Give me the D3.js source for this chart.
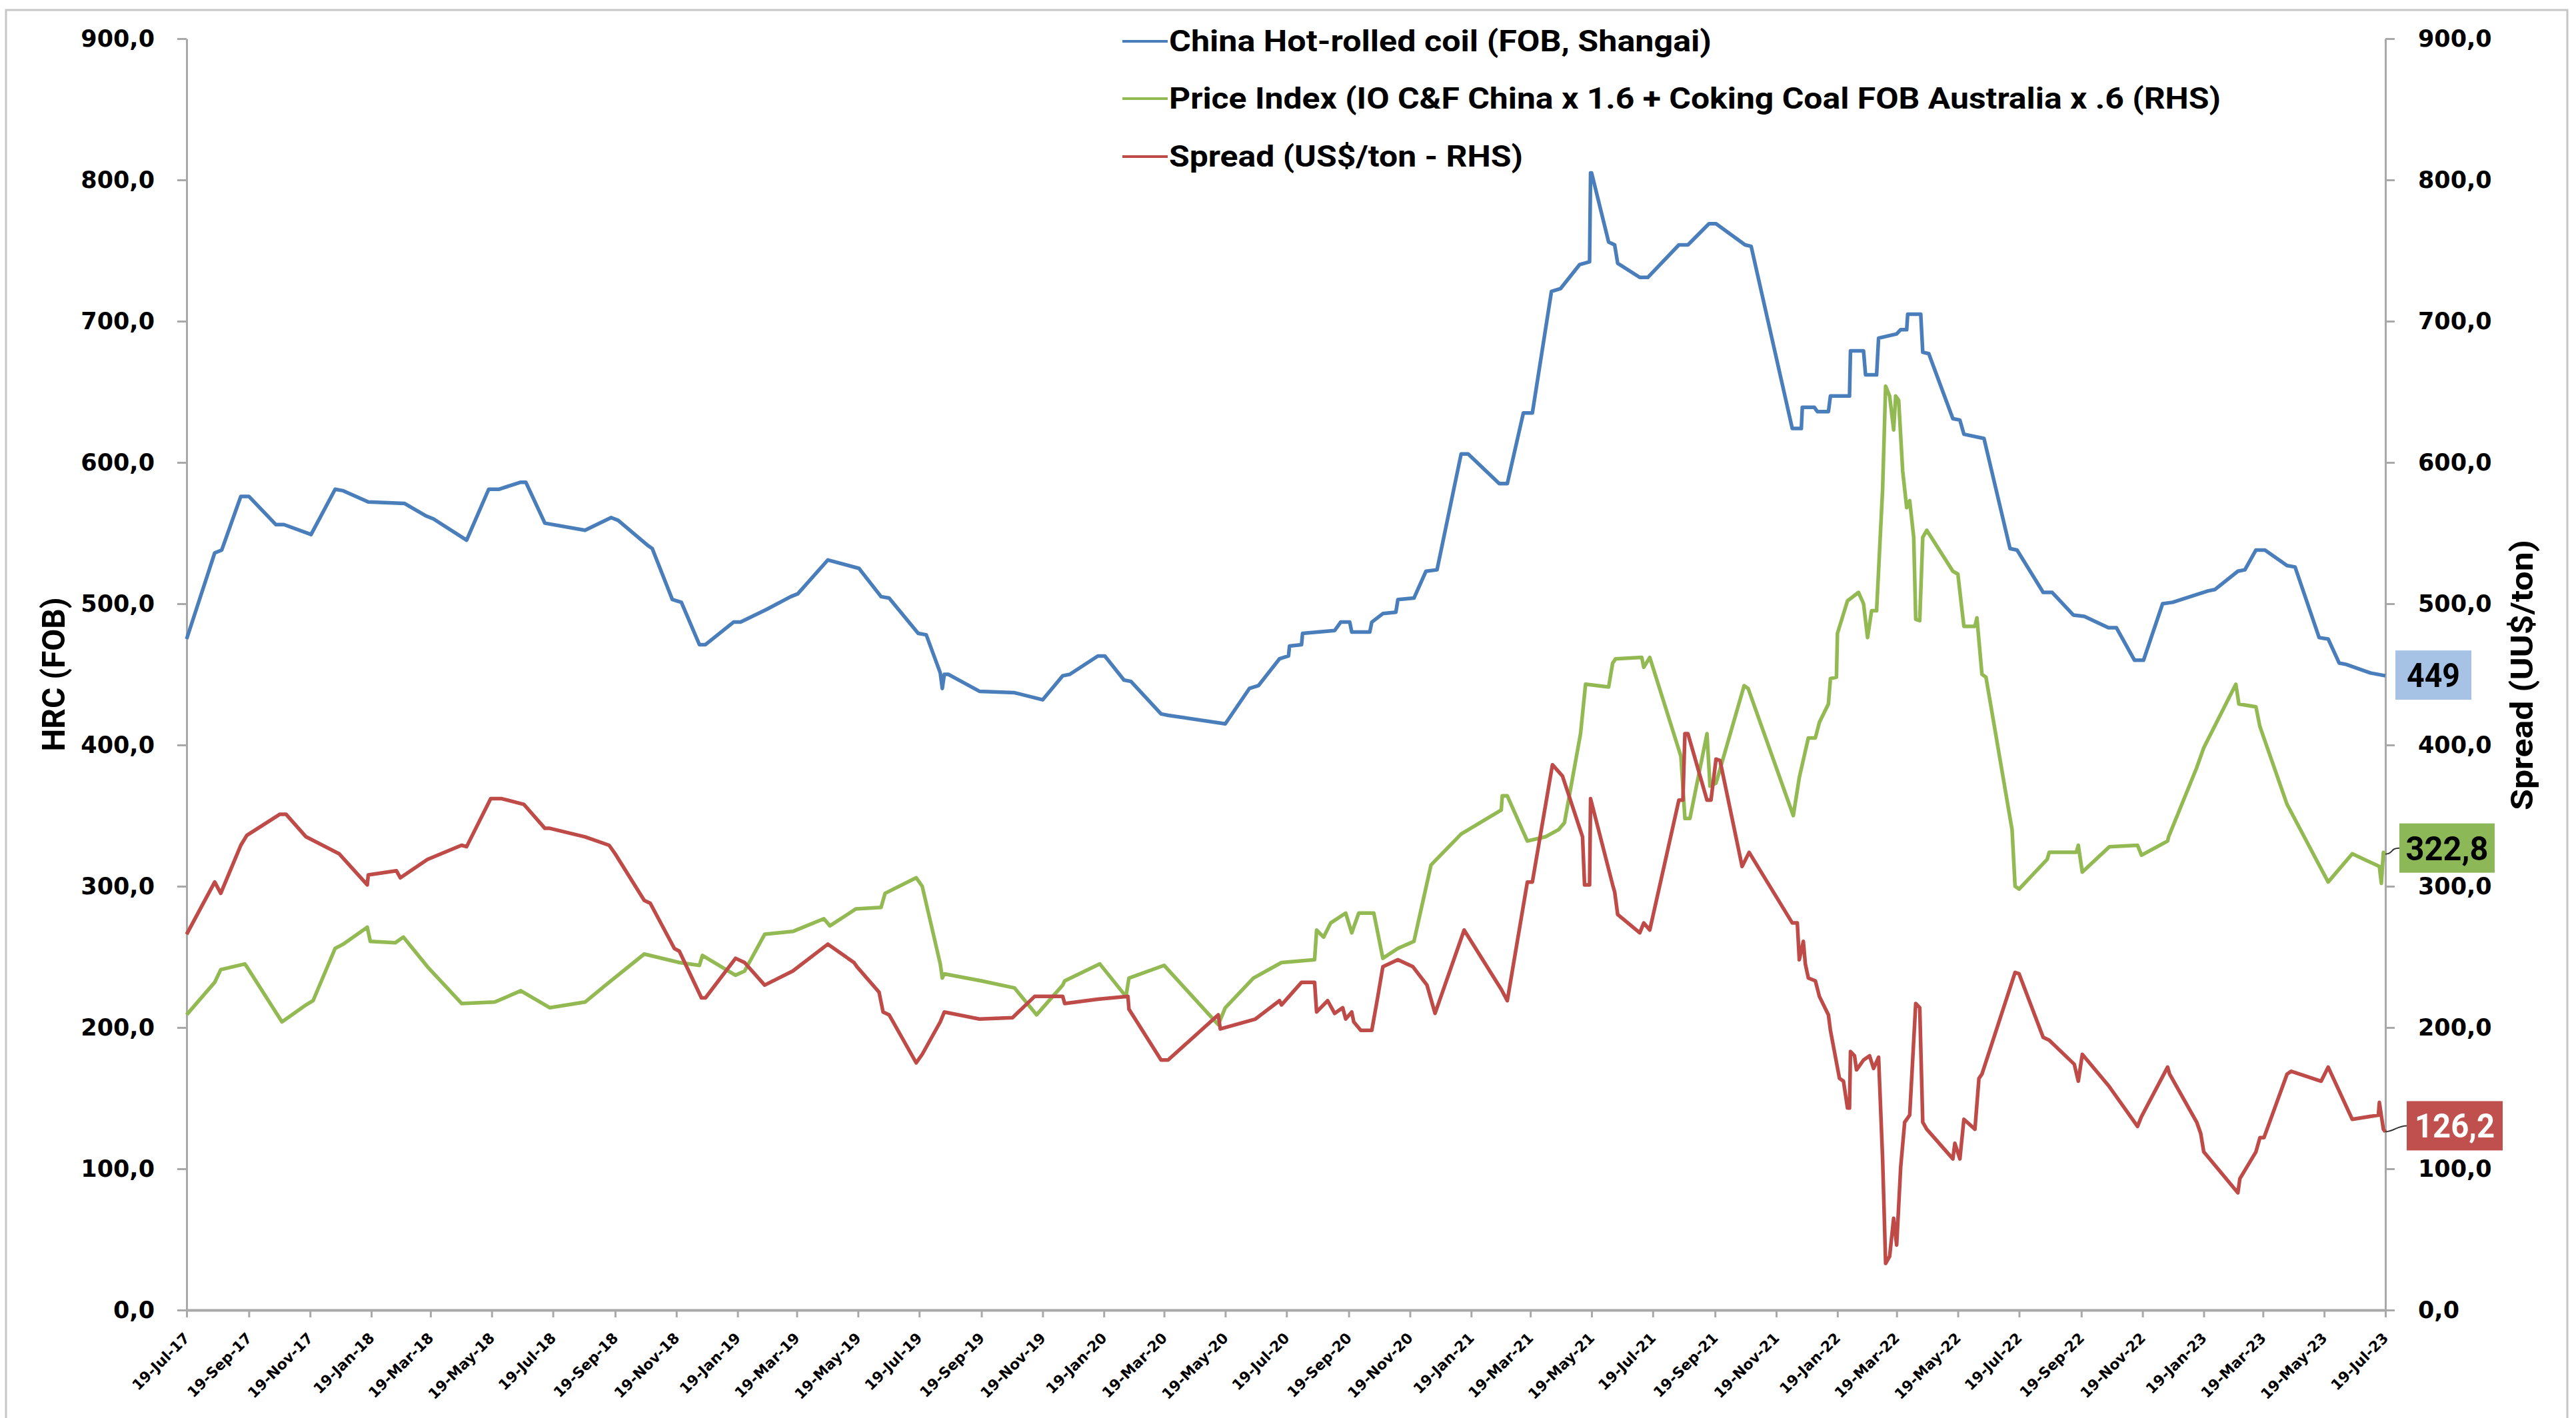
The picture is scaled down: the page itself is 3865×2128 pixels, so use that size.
<!DOCTYPE html>
<html>
<head>
<meta charset="utf-8">
<script src="https://cdn.jsdelivr.net/npm/d3@7"></script>
<style>
  body { margin: 0; background: #fff; }
  svg { display: block; }
</style>
</head>
<body>
<svg id="chart"></svg>
<script>
// China HRC (FOB Shanghai), US$/t - left axis
var hrc = [
  ["2017-07-19", 475], ["2017-08-16", 536], ["2017-08-23", 538], ["2017-09-11", 576], ["2017-09-19", 576],
  ["2017-10-16", 556], ["2017-10-24", 556], ["2017-11-20", 549], ["2017-12-14", 581], ["2017-12-22", 580],
  ["2018-01-16", 572], ["2018-02-21", 571], ["2018-03-15", 562], ["2018-03-22", 560], ["2018-04-24", 545],
  ["2018-05-16", 581], ["2018-05-26", 581], ["2018-06-17", 586], ["2018-06-22", 586], ["2018-07-11", 557],
  ["2018-08-20", 552], ["2018-09-15", 561], ["2018-09-22", 559], ["2018-10-22", 541], ["2018-10-26", 539],
  ["2018-11-15", 503], ["2018-11-24", 501], ["2018-12-12", 471], ["2018-12-18", 471], ["2019-01-15", 487],
  ["2019-01-22", 487], ["2019-02-17", 496], ["2019-03-13", 505], ["2019-03-20", 507], ["2019-04-19", 531],
  ["2019-05-20", 525], ["2019-06-11", 505], ["2019-06-19", 504], ["2019-07-18", 479], ["2019-07-26", 478],
  ["2019-08-09", 451], ["2019-08-11", 440], ["2019-08-13", 450], ["2019-08-17", 450], ["2019-09-17", 438],
  ["2019-10-22", 437], ["2019-11-19", 432], ["2019-12-09", 449], ["2019-12-16", 450], ["2020-01-13", 463],
  ["2020-01-20", 463], ["2020-02-08", 446], ["2020-02-15", 445], ["2020-03-16", 422], ["2020-03-23", 421],
  ["2020-05-19", 415], ["2020-06-12", 440], ["2020-06-21", 442], ["2020-07-12", 461], ["2020-07-21", 463],
  ["2020-07-22", 470], ["2020-08-03", 471], ["2020-08-04", 479], ["2020-09-05", 481], ["2020-09-11", 487],
  ["2020-09-20", 487], ["2020-09-22", 480], ["2020-10-10", 480], ["2020-10-12", 487], ["2020-10-23", 493],
  ["2020-11-05", 494], ["2020-11-07", 503], ["2020-11-23", 504], ["2020-12-05", 523], ["2020-12-16", 524],
  ["2021-01-09", 606], ["2021-01-16", 606], ["2021-02-16", 585], ["2021-02-24", 585], ["2021-03-12", 635],
  ["2021-03-21", 635], ["2021-04-09", 721], ["2021-04-18", 723], ["2021-05-07", 740], ["2021-05-17", 742],
  ["2021-05-18", 805], ["2021-05-19", 805], ["2021-06-05", 756], ["2021-06-11", 754], ["2021-06-14", 741],
  ["2021-07-06", 731], ["2021-07-14", 731], ["2021-08-14", 754], ["2021-08-23", 754], ["2021-09-13", 769],
  ["2021-09-20", 769], ["2021-10-19", 754], ["2021-10-25", 753], ["2021-12-05", 624], ["2021-12-14", 624],
  ["2021-12-15", 639], ["2021-12-27", 639], ["2021-12-30", 636], ["2022-01-10", 636], ["2022-01-12", 647],
  ["2022-01-31", 647], ["2022-02-01", 679], ["2022-02-14", 679], ["2022-02-16", 662], ["2022-02-27", 662],
  ["2022-03-01", 688], ["2022-03-19", 691], ["2022-03-23", 694], ["2022-03-29", 694], ["2022-03-30", 705],
  ["2022-04-12", 705], ["2022-04-14", 678], ["2022-04-20", 677], ["2022-05-14", 631], ["2022-05-21", 630],
  ["2022-05-25", 620], ["2022-06-14", 617], ["2022-07-10", 539], ["2022-07-17", 538], ["2022-08-12", 508],
  ["2022-08-21", 508], ["2022-09-11", 492], ["2022-09-22", 491], ["2022-10-16", 483], ["2022-10-24", 483],
  ["2022-11-11", 460], ["2022-11-20", 460], ["2022-12-09", 500], ["2022-12-19", 501], ["2023-01-23", 509],
  ["2023-01-30", 510], ["2023-02-22", 523], ["2023-03-01", 524], ["2023-03-12", 538], ["2023-03-21", 538],
  ["2023-04-12", 527], ["2023-04-20", 526], ["2023-05-14", 476], ["2023-05-23", 475], ["2023-06-03", 458],
  ["2023-06-10", 457], ["2023-07-04", 451], ["2023-07-19", 449]
];

// IO C&F China x 1.6 + coking coal FOB Australia x 0.6 - right axis
var priceIndex = [
  ["2017-07-19", 209], ["2017-08-16", 232], ["2017-08-22", 241], ["2017-09-15", 245], ["2017-09-17", 243],
  ["2017-10-22", 204], ["2017-11-15", 216], ["2017-11-22", 219], ["2017-12-14", 256], ["2017-12-22", 259],
  ["2018-01-15", 271], ["2018-01-18", 261], ["2018-02-12", 260], ["2018-02-20", 264], ["2018-03-16", 243],
  ["2018-04-19", 217], ["2018-05-22", 218], ["2018-06-17", 226], ["2018-07-16", 214], ["2018-08-20", 218],
  ["2018-09-13", 232], ["2018-10-18", 252], ["2018-11-22", 246], ["2018-12-12", 244], ["2018-12-15", 251],
  ["2019-01-17", 237], ["2019-01-26", 240], ["2019-02-15", 266], ["2019-03-15", 268], ["2019-04-15", 277],
  ["2019-04-21", 272], ["2019-05-17", 284], ["2019-06-11", 285], ["2019-06-15", 295], ["2019-07-16", 306],
  ["2019-07-22", 300], ["2019-08-09", 245], ["2019-08-11", 235], ["2019-08-13", 238], ["2019-09-19", 233],
  ["2019-10-22", 228], ["2019-11-13", 209], ["2019-12-09", 230], ["2019-12-11", 233], ["2020-01-15", 245],
  ["2020-02-10", 222], ["2020-02-13", 235], ["2020-03-19", 244], ["2020-05-12", 202], ["2020-05-19", 214],
  ["2020-06-16", 235], ["2020-07-14", 246], ["2020-08-16", 248], ["2020-08-18", 269], ["2020-08-25", 264],
  ["2020-09-01", 274], ["2020-09-16", 281], ["2020-09-22", 267], ["2020-09-29", 281], ["2020-10-14", 281],
  ["2020-10-23", 249], ["2020-11-07", 256], ["2020-11-23", 261], ["2020-12-10", 315], ["2021-01-09", 337],
  ["2021-02-18", 354], ["2021-02-19", 364], ["2021-02-24", 364], ["2021-03-16", 332], ["2021-04-03", 335],
  ["2021-04-16", 340], ["2021-04-22", 345], ["2021-05-08", 408], ["2021-05-13", 443], ["2021-06-05", 441],
  ["2021-06-09", 458], ["2021-06-12", 461], ["2021-07-08", 462], ["2021-07-10", 455], ["2021-07-16", 462],
  ["2021-08-16", 392], ["2021-08-20", 348], ["2021-08-25", 348], ["2021-09-11", 408], ["2021-09-14", 371],
  ["2021-09-20", 373], ["2021-10-18", 442], ["2021-10-22", 440], ["2021-12-06", 350], ["2021-12-12", 377],
  ["2021-12-21", 405], ["2021-12-28", 405], ["2022-01-01", 416], ["2022-01-10", 429], ["2022-01-12", 447],
  ["2022-01-18", 448], ["2022-01-19", 479], ["2022-01-29", 502], ["2022-02-09", 508], ["2022-02-14", 500],
  ["2022-02-18", 476], ["2022-02-22", 495], ["2022-02-27", 495], ["2022-03-05", 581], ["2022-03-08", 654],
  ["2022-03-12", 647], ["2022-03-16", 623], ["2022-03-18", 647], ["2022-03-21", 644], ["2022-03-25", 594],
  ["2022-03-29", 568], ["2022-04-01", 573], ["2022-04-05", 547], ["2022-04-07", 489], ["2022-04-11", 488],
  ["2022-04-14", 547], ["2022-04-18", 552], ["2022-05-14", 523], ["2022-05-19", 521], ["2022-05-25", 484],
  ["2022-06-05", 484], ["2022-06-07", 490], ["2022-06-12", 450], ["2022-06-16", 448], ["2022-07-12", 340],
  ["2022-07-15", 300], ["2022-07-19", 298], ["2022-08-16", 319], ["2022-08-18", 324], ["2022-09-14", 324],
  ["2022-09-16", 329], ["2022-09-20", 310], ["2022-10-17", 328], ["2022-11-14", 329], ["2022-11-18", 322],
  ["2022-12-14", 332], ["2022-12-15", 335], ["2023-01-12", 384], ["2023-01-19", 398], ["2023-02-20", 443],
  ["2023-02-23", 429], ["2023-03-12", 427], ["2023-03-16", 413], ["2023-04-12", 358], ["2023-05-14", 315],
  ["2023-05-23", 303], ["2023-06-16", 323], ["2023-07-13", 314], ["2023-07-15", 302], ["2023-07-17", 324],
  ["2023-07-19", 322.8]
];

// Spread HRC - price index, US$/t - right axis
var spread = [
  ["2017-07-19", 266], ["2017-08-16", 303], ["2017-08-22", 295], ["2017-09-11", 329], ["2017-09-17", 336],
  ["2017-10-20", 351], ["2017-10-26", 351], ["2017-11-15", 335], ["2017-12-18", 323], ["2018-01-15", 301],
  ["2018-01-16", 308], ["2018-02-13", 311], ["2018-02-17", 306], ["2018-03-16", 319], ["2018-04-19", 329],
  ["2018-04-24", 328], ["2018-05-18", 362], ["2018-05-29", 362], ["2018-06-20", 358], ["2018-07-11", 341],
  ["2018-07-16", 341], ["2018-08-20", 335], ["2018-09-13", 329], ["2018-09-19", 323], ["2018-10-18", 290],
  ["2018-10-24", 288], ["2018-11-17", 256], ["2018-11-22", 254], ["2018-12-14", 221], ["2018-12-18", 221],
  ["2019-01-17", 249], ["2019-01-26", 246], ["2019-02-15", 230], ["2019-03-15", 240], ["2019-04-19", 259],
  ["2019-05-15", 246], ["2019-05-18", 243], ["2019-06-09", 225], ["2019-06-13", 211], ["2019-06-19", 209],
  ["2019-07-16", 175], ["2019-07-22", 181], ["2019-08-09", 204], ["2019-08-13", 211], ["2019-09-17", 206],
  ["2019-10-20", 207], ["2019-11-11", 222], ["2019-12-09", 222], ["2019-12-11", 217], ["2020-01-13", 220],
  ["2020-02-12", 222], ["2020-02-13", 213], ["2020-03-16", 177], ["2020-03-23", 177], ["2020-05-12", 209],
  ["2020-05-14", 199], ["2020-06-18", 206], ["2020-07-12", 219], ["2020-07-14", 216], ["2020-08-03", 232],
  ["2020-08-16", 232], ["2020-08-18", 211], ["2020-08-29", 219], ["2020-09-05", 210], ["2020-09-13", 214],
  ["2020-09-16", 206], ["2020-09-22", 211], ["2020-09-24", 204], ["2020-10-01", 198], ["2020-10-12", 198],
  ["2020-10-18", 222], ["2020-10-23", 243], ["2020-11-07", 248], ["2020-11-22", 243], ["2020-12-06", 230],
  ["2020-12-14", 210], ["2021-01-12", 269], ["2021-02-18", 227], ["2021-02-24", 219], ["2021-03-16", 303],
  ["2021-03-21", 303], ["2021-04-10", 386], ["2021-04-20", 378], ["2021-05-10", 335], ["2021-05-12", 301],
  ["2021-05-17", 301], ["2021-05-18", 362], ["2021-06-09", 301], ["2021-06-11", 296], ["2021-06-14", 280],
  ["2021-07-06", 267], ["2021-07-10", 274], ["2021-07-16", 269], ["2021-08-14", 361], ["2021-08-18", 361],
  ["2021-08-20", 408], ["2021-08-23", 408], ["2021-09-11", 361], ["2021-09-15", 361], ["2021-09-20", 390],
  ["2021-09-24", 389], ["2021-10-16", 314], ["2021-10-23", 324], ["2021-12-05", 274], ["2021-12-10", 274],
  ["2021-12-12", 248], ["2021-12-16", 261], ["2021-12-18", 245], ["2021-12-21", 235], ["2021-12-28", 233],
  ["2022-01-01", 222], ["2022-01-10", 209], ["2022-01-12", 198], ["2022-01-21", 164], ["2022-01-25", 162],
  ["2022-01-29", 143], ["2022-01-31", 143], ["2022-02-01", 183], ["2022-02-05", 180], ["2022-02-07", 170],
  ["2022-02-14", 177], ["2022-02-20", 180], ["2022-02-24", 171], ["2022-03-01", 179], ["2022-03-05", 107],
  ["2022-03-08", 33], ["2022-03-12", 38], ["2022-03-16", 65], ["2022-03-19", 46], ["2022-03-23", 101],
  ["2022-03-27", 133], ["2022-04-01", 138], ["2022-04-07", 217], ["2022-04-11", 214], ["2022-04-14", 133],
  ["2022-04-18", 128], ["2022-05-14", 107], ["2022-05-16", 118], ["2022-05-21", 107], ["2022-05-25", 135],
  ["2022-06-05", 128], ["2022-06-09", 164], ["2022-06-12", 167], ["2022-07-15", 239], ["2022-07-19", 238],
  ["2022-08-12", 193], ["2022-08-18", 191], ["2022-09-12", 174], ["2022-09-16", 162], ["2022-09-20", 181],
  ["2022-10-16", 159], ["2022-10-19", 156], ["2022-11-14", 130], ["2022-11-18", 137], ["2022-12-14", 172],
  ["2022-12-16", 167], ["2023-01-12", 133], ["2023-01-16", 125], ["2023-01-19", 112], ["2023-02-22", 83],
  ["2023-02-24", 93], ["2023-03-12", 112], ["2023-03-16", 122], ["2023-03-20", 122], ["2023-04-12", 167],
  ["2023-04-16", 169], ["2023-05-16", 162], ["2023-05-23", 172], ["2023-06-16", 135], ["2023-07-12", 138],
  ["2023-07-13", 147], ["2023-07-17", 128], ["2023-07-19", 126.2]
];

var xTickDates = [
  "2017-07-19", "2017-09-19", "2017-11-19", "2018-01-19", "2018-03-19", "2018-05-19", "2018-07-19",
  "2018-09-19", "2018-11-19", "2019-01-19", "2019-03-19", "2019-05-19", "2019-07-19", "2019-09-19",
  "2019-11-19", "2020-01-19", "2020-03-19", "2020-05-19", "2020-07-19", "2020-09-19", "2020-11-19",
  "2021-01-19", "2021-03-19", "2021-05-19", "2021-07-19", "2021-09-19", "2021-11-19", "2022-01-19",
  "2022-03-19", "2022-05-19", "2022-07-19", "2022-09-19", "2022-11-19", "2023-01-19", "2023-03-19",
  "2023-05-19", "2023-07-19"
];
var yTicks = [0, 100, 200, 300, 400, 500, 600, 700, 800, 900];

var seriesNames = [
  "China Hot-rolled coil (FOB, Shangai)",
  "Price Index (IO C&F China x 1.6 + Coking Coal FOB Australia x .6 (RHS)",
  "Spread (US$/ton - RHS)"
];
var seriesColors = ["#4a7ebb", "#93b953", "#be4b48"];
var leftTitle = "HRC (FOB)";
var rightTitle = "Spread (UU$/ton)";

var width = 3865, height = 2128;
var labelFont = "Roboto, 'Open Sans', sans-serif";
var tickFont = "'DejaVu Sans', Verdana, sans-serif";

var parseDate = d3.timeParse("%Y-%m-%d");
// excel style decimal comma
var commaFmt = v => d3.format(".1f")(v).replace(".", ",");

function drawChart() {
  var svg = d3.select("#chart")
      .attr("width", width)
      .attr("height", height);

  svg.append("rect")
      .attr("width", width)
      .attr("height", height)
      .attr("fill", "#fff");

  // outer chart border (bottom edge falls off the picture)
  svg.append("rect")
      .attr("x", 9)
      .attr("y", 15)
      .attr("width", 3843)
      .attr("height", 2200)
      .attr("fill", "none")
      .attr("stroke", "#c6c6c6")
      .attr("stroke-width", 3);

  var x = d3.scaleTime()
            .domain([parseDate(xTickDates[0]), parseDate(xTickDates[xTickDates.length - 1])])
            .range([280, 3579]);
  var yLeft = d3.scaleLinear().domain([0, 900]).range([1966, 58]);
  var yRight = d3.scaleLinear().domain([0, 900]).range([1966, 58]);

  drawAxes(svg, x, yLeft, yRight);

  var series = [
    { data: hrc, y: yLeft, color: seriesColors[0] },
    { data: priceIndex, y: yRight, color: seriesColors[1] },
    { data: spread, y: yRight, color: seriesColors[2] }
  ];

  series.forEach(s => {
    var line = d3.line()
                 .x(d => x(parseDate(d[0])))
                 .y(d => s.y(d[1]));
    svg.append("path")
        .datum(s.data)
        .attr("d", line)
        .attr("fill", "none")
        .attr("stroke", s.color)
        .attr("stroke-width", 5.5)
        .attr("stroke-linejoin", "round");
  });

  drawLastLabels(svg, x, yLeft, yRight);
  drawLegend(svg);
}

function drawAxes(svg, x, yLeft, yRight) {
  var axisColor = "#a9a9a9";

  var left = svg.append("g")
      .attr("transform", "translate(280,0)")
      .call(d3.axisLeft(yLeft).tickValues(yTicks).tickFormat(commaFmt)
              .tickSize(14).tickSizeOuter(0).tickPadding(34));

  var right = svg.append("g")
      .attr("transform", "translate(3579,0)")
      .call(d3.axisRight(yRight).tickValues(yTicks).tickFormat(commaFmt)
              .tickSize(14).tickSizeOuter(0).tickPadding(35));

  var bottom = svg.append("g")
      .attr("transform", "translate(0,1966)")
      .call(d3.axisBottom(x).tickValues(xTickDates.map(parseDate))
              .tickFormat(d3.timeFormat("%d-%b-%y"))
              .tickSize(11).tickSizeOuter(0));

  [left, right, bottom].forEach(g => {
    g.select(".domain").attr("stroke", axisColor).attr("stroke-width", 3);
    g.selectAll(".tick line").attr("stroke", axisColor).attr("stroke-width", 3);
    g.selectAll("text")
        .attr("fill", "#000")
        .attr("font-family", tickFont)
        .attr("font-weight", "bold");
  });
  left.selectAll("text").attr("font-size", 35);
  right.selectAll("text").attr("font-size", 35);
  bottom.select(".domain").attr("stroke-width", 4);

  // rotated date labels
  bottom.selectAll(".tick text")
      .attr("font-size", 22)
      .attr("x", 0)
      .attr("y", 0)
      .attr("dy", "0.35em")
      .attr("text-anchor", "end")
      .attr("transform", "translate(0,38) rotate(-45)");

  // axis titles
  svg.append("text")
      .attr("transform", "translate(97,1012) rotate(-90)")
      .attr("text-anchor", "middle")
      .attr("font-family", labelFont)
      .attr("font-weight", "bold")
      .attr("font-size", 49)
      .attr("textLength", 231)
      .attr("lengthAdjust", "spacingAndGlyphs")
      .text(leftTitle);

  svg.append("text")
      .attr("transform", "translate(3800,1013) rotate(-90)")
      .attr("text-anchor", "middle")
      .attr("font-family", labelFont)
      .attr("font-weight", "bold")
      .attr("font-size", 46)
      .attr("textLength", 406)
      .attr("lengthAdjust", "spacingAndGlyphs")
      .text(rightTitle);
}

function drawLastLabels(svg, x, yLeft, yRight) {
  var lastHrc = hrc[hrc.length - 1];
  var lastIdx = priceIndex[priceIndex.length - 1];
  var lastSpr = spread[spread.length - 1];

  var labels = [
    { d: lastHrc, y: yLeft, text: d3.format(".0f")(lastHrc[1]), fill: "#a6c3e6", color: "#000",
      left: 3594, w: 114, shift: -1, tl: 80, leader: false },
    { d: lastIdx, y: yRight, text: commaFmt(lastIdx[1]), fill: "#8db858", color: "#000",
      left: 3600, w: 143, shift: -9, tl: 124, leader: true },
    { d: lastSpr, y: yRight, text: commaFmt(lastSpr[1]), fill: "#c0504d", color: "#fff",
      left: 3611, w: 144, shift: -9, tl: 120, leader: true }
  ];

  labels.forEach(l => {
    var px = x(parseDate(l.d[0]));
    var py = l.y(l.d[1]);
    var cy = py + l.shift;

    if (l.leader) {
      svg.append("path")
          .attr("d", "M" + px + "," + py + " C" + (px + 12) + "," + py + " " +
                (l.left - 14) + "," + cy + " " + l.left + "," + cy)
          .attr("fill", "none")
          .attr("stroke", "#333")
          .attr("stroke-width", 2);
    }

    svg.append("rect")
        .attr("x", l.left)
        .attr("y", cy - 37)
        .attr("width", l.w)
        .attr("height", 74)
        .attr("fill", l.fill);

    svg.append("text")
        .attr("x", l.left + l.w / 2)
        .attr("y", cy)
        .attr("dy", "0.36em")
        .attr("text-anchor", "middle")
        .attr("font-family", labelFont)
        .attr("font-weight", "bold")
        .attr("font-size", 50)
        .attr("textLength", l.tl)
        .attr("lengthAdjust", "spacingAndGlyphs")
        .attr("fill", l.color)
        .text(l.text);
  });
}

function drawLegend(svg) {
  var rowsY = [62, 148, 235];
  var textLengths = [814, 1578, 531];

  var rows = svg.append("g")
    .selectAll("g")
    .data(seriesNames)
    .enter()
    .append("g");

  rows.append("line")
      .attr("x1", 1684)
      .attr("x2", 1752)
      .attr("y1", (d, i) => rowsY[i])
      .attr("y2", (d, i) => rowsY[i])
      .attr("stroke", (d, i) => seriesColors[i])
      .attr("stroke-width", 4);

  rows.append("text")
      .attr("x", 1754)
      .attr("y", (d, i) => rowsY[i] + 15)
      .attr("font-family", labelFont)
      .attr("font-weight", "bold")
      .attr("font-size", 45)
      .attr("textLength", (d, i) => textLengths[i])
      .attr("lengthAdjust", "spacingAndGlyphs")
      .text(d => d);
}

drawChart();
</script>
</body>
</html>
